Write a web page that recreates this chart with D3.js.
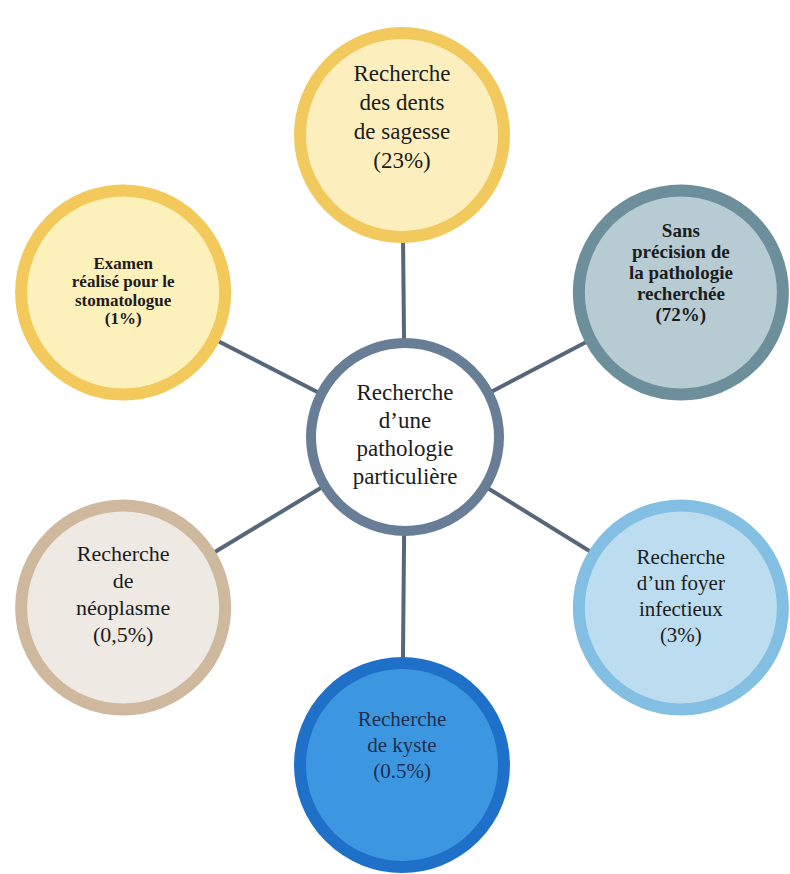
<!DOCTYPE html>
<html>
<head>
<meta charset="utf-8">
<script src="https://cdnjs.cloudflare.com/ajax/libs/d3/7.8.5/d3.min.js"></script>
<style>
  body { margin: 0; background: #fff; }
  svg { display: block; }
</style>
</head>
<body>
<svg id="chart" width="790" height="874"></svg>
<script>
// data
var centerLabel = ["Recherche", "d\u2019une", "pathologie", "particuli\u00e8re"];
var categories = [
  ["Recherche", "des dents", "de sagesse"],
  ["Sans", "pr\u00e9cision de", "la pathologie", "recherch\u00e9e"],
  ["Recherche", "d\u2019un foyer", "infectieux"],
  ["Recherche", "de kyste"],
  ["Recherche", "de", "n\u00e9oplasme"],
  ["Examen", "r\u00e9alis\u00e9 pour le", "stomatologue"]
];
var percents = ["(23%)", "(72%)", "(3%)", "(0.5%)", "(0,5%)", "(1%)"];

// look of each bubble
var fills   = ["#fcefbd", "#b7cbd3", "#bcdcef", "#3d97e0", "#eee9e2", "#fcf0bb"];
var strokes = ["#f1c95c", "#6d8f9b", "#82bfe2", "#1f70c9", "#cfb99e", "#f2c95a"];
var textCol = ["#1c1c1c", "#1c1c1c", "#1c1c1c", "#1d3050", "#1c1c1c", "#1c1c1c"];
var fontSz  = [23, 19, 21, 21, 22, 17];
var lineH   = [29, 21, 26, 26, 27, 18.5];
var bold    = [false, true, false, false, false, true];
var textDy  = [-19, -20, -12, -20, -14, -2];

var serif = "'Liberation Serif', 'Times New Roman', serif";
var svg = d3.select("#chart");
var cx = 402, cy = 450, rx = 322, ry = 315;
var center = {x: 405, y: 437};

var angle = d3.scaleLinear().domain([0, categories.length]).range([-Math.PI / 2, 1.5 * Math.PI]);

var nodes = categories.map(function(lines, i) {
  var a = angle(i);
  return {
    lines: lines.concat([percents[i]]),
    x: cx + rx * Math.cos(a),
    y: cy + ry * Math.sin(a),
    i: i
  };
});

// connectors
svg.append("g").selectAll("line")
  .data(nodes)
  .enter().append("line")
  .attr("x1", center.x).attr("y1", center.y)
  .attr("x2", function(d) { return d.x; })
  .attr("y2", function(d) { return d.y; })
  .attr("stroke", "#56677b")
  .attr("stroke-width", 4);

// outer bubbles
var g = svg.append("g").selectAll("g")
  .data(nodes)
  .enter().append("g")
  .attr("transform", function(d) { return "translate(" + d.x + "," + d.y + ")"; });

g.append("circle")
  .attr("r", 102)
  .attr("fill", function(d) { return fills[d.i]; })
  .attr("stroke", function(d) { return strokes[d.i]; })
  .attr("stroke-width", 12);

g.each(function(d) {
  var n = d.lines.length, i = d.i;
  d3.select(this).selectAll("text")
    .data(d.lines)
    .enter().append("text")
    .attr("text-anchor", "middle")
    .attr("y", function(t, k) { return textDy[i] + (k - (n - 1) / 2) * lineH[i]; })
    .attr("dy", "0.35em")
    .attr("font-family", serif)
    .attr("font-size", fontSz[i])
    .attr("font-weight", bold[i] ? "bold" : "normal")
    .attr("fill", textCol[i])
    .text(function(t) { return t; });
});

// center bubble
var cg = svg.append("g").attr("transform", "translate(" + center.x + "," + center.y + ")");
cg.append("circle")
  .attr("r", 94)
  .attr("fill", "#fff")
  .attr("stroke", "#687e97")
  .attr("stroke-width", 10);
cg.selectAll("text")
  .data(centerLabel)
  .enter().append("text")
  .attr("text-anchor", "middle")
  .attr("y", function(t, k) { return -3 + (k - 1.5) * 28; })
  .attr("dy", "0.35em")
  .attr("font-family", serif)
  .attr("font-size", 23)
  .attr("fill", "#1c1c1c")
  .text(function(t) { return t; });
</script>
</body>
</html>
